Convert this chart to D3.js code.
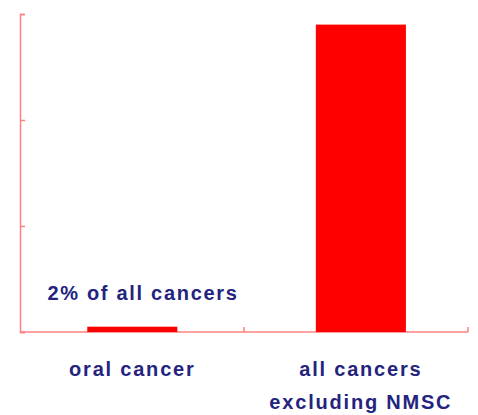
<!DOCTYPE html>
<html>
<head>
<meta charset="utf-8">
<script src="https://cdn.jsdelivr.net/npm/d3@7"></script>
<style>
  body { margin: 0; background: #fff; }
  svg text { font-family: "Liberation Sans", Arial, sans-serif; font-weight: bold; fill: #24247f; }
</style>
</head>
<body>
<div id="chart"></div>
<script>
// data (y units unknown, ticks unlabeled)
const categories = ["oral cancer", "all cancers excluding NMSC"];
const categoryLines = [["oral cancer"], ["all cancers", "excluding NMSC"]];
const values = [5, 290];
const yTicks = [0, 100, 200, 300];
const annotation = "2% of all cancers";

const width = 478, height = 415;
const margin = { top: 14, right: 10, bottom: 83, left: 20 };

const svg = d3.select("#chart").append("svg")
    .attr("width", width)
    .attr("height", height);

const x = d3.scaleBand()
    .domain(categories)
    .range([margin.left, width - margin.right])
    .paddingInner(0.606)
    .paddingOuter(0.283)
    .align(0.52);

const y = d3.scaleLinear()
    .domain([0, 300])
    .range([height - margin.bottom, margin.top]);

const axisColor = "#ff8080";

// y axis, ticks pointing inward
const yAxis = svg.append("g")
    .attr("transform", `translate(${margin.left},0)`)
    .call(d3.axisRight(y).tickValues(yTicks).tickSize(5).tickFormat(""));
yAxis.select(".domain").attr("stroke", axisColor).attr("stroke-width", 1.5);
yAxis.selectAll(".tick line").attr("stroke", axisColor).attr("stroke-width", 1.5);

// x axis with category separators pointing up
const x0 = margin.left, x1 = width - margin.right;
const xAxis = svg.append("g");
xAxis.append("line")
    .attr("x1", x0).attr("x2", x1)
    .attr("y1", y(0)).attr("y2", y(0))
    .attr("stroke", axisColor).attr("stroke-width", 1.5);
const seps = [x0 + (x1 - x0) / 2, x1];
xAxis.selectAll("line.sep").data(seps).join("line")
    .attr("class", "sep")
    .attr("x1", d => d).attr("x2", d => d)
    .attr("y1", y(0)).attr("y2", y(0) - 5)
    .attr("stroke", axisColor).attr("stroke-width", 1.5);

// bars
svg.selectAll("rect.bar").data(values).join("rect")
    .attr("class", "bar")
    .attr("x", (d, i) => x(categories[i]))
    .attr("y", d => y(d))
    .attr("width", x.bandwidth())
    .attr("height", d => y(0) - y(d))
    .attr("fill", "#ff0000");

// category labels
categoryLines.forEach((lines, i) => {
    const cx = x(categories[i]) + x.bandwidth() / 2;
    const t = svg.append("text")
        .attr("y", 376)
        .attr("text-anchor", "middle")
        .style("font-size", "20px")
        .style("letter-spacing", "1.8px");
    lines.forEach((ln, j) => {
        t.append("tspan")
            .attr("x", cx)
            .attr("dy", j === 0 ? 0 : 33)
            .text(ln);
    });
});

// annotation above the small bar
svg.append("text")
    .attr("x", 143)
    .attr("y", 300)
    .attr("text-anchor", "middle")
    .style("font-size", "20px")
    .style("letter-spacing", "1.7px")
    .text(annotation);
</script>
</body>
</html>
